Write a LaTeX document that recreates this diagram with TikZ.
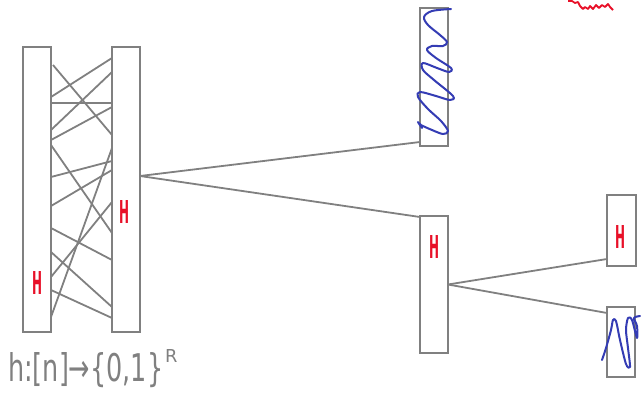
\documentclass[tikz,border=0pt]{standalone}
\usepackage{fontspec}
\setmainfont{DejaVu Sans}
\newfontfamily\handfont{DejaVu Sans}
\definecolor{boxgray}{RGB}{128,128,128}
\definecolor{inkred}{RGB}{232,16,40}
\definecolor{inkblue}{RGB}{52,60,180}
\tikzset{
  unit/.style={draw=boxgray, line width=2pt, fill=white, inner sep=0pt, outer sep=0pt, minimum width=28pt},
  wire/.style={draw=boxgray, line width=1.8pt},
  hlabel/.style={text=inkred, inner sep=0pt},
  scribble/.style={draw=inkblue, line width=2pt, line cap=round, line join=round},
}
\newcommand{\redH}{\resizebox{10pt}{23pt}{\handfont\bfseries H}}
\begin{document}
\begin{tikzpicture}[x=1pt,y=-1pt]
\useasboundingbox (0,0) rectangle (641,394);
% boxes
\node[unit, minimum height=285pt] (A) at (37,189.5) {};
\node[unit, minimum height=285pt] (B) at (126,189.5) {};
\node[unit, minimum height=138pt] (C) at (434,77) {};
\node[unit, minimum height=137pt] (D) at (434,284.5) {};
\node[unit, minimum height=71pt, minimum width=29pt] (E) at (621.5,230.5) {};
\node[unit, minimum height=70pt] (F) at (621,342) {};
% crossing wires between A and B
\draw[wire] (A.east |- 0,65) ++(2,0) -- (B.west |- 0,135);
\draw[wire] (A.east |- 0,97) -- (B.west |- 0,58);
\draw[wire] (A.east |- 0,103) -- (B.west |- 0,103);
\draw[wire] (A.east |- 0,130) -- (B.west |- 0,72);
\draw[wire] (A.east |- 0,140) -- (B.west |- 0,107);
\draw[wire] (A.east |- 0,145) -- (B.west |- 0,233);
\draw[wire] (A.east |- 0,177) -- (B.west |- 0,161);
\draw[wire] (A.east |- 0,206) -- (B.west |- 0,170);
\draw[wire] (A.east |- 0,228) -- (B.west |- 0,260);
\draw[wire] (A.east |- 0,252) -- (B.west |- 0,307);
\draw[wire] (A.east |- 0,277) -- (B.west |- 0,202);
\draw[wire] (A.east |- 0,290) -- (B.west |- 0,318);
\draw[wire] (A.east |- 0,317) -- (B.west |- 0,148);
% tree wires
\draw[wire] (B.east |- 0,176) -- (C.west |- 0,142);
\draw[wire] (B.east |- 0,176) -- (D.west |- 0,217);
\draw[wire] (D.east) -- (E.west |- 0,259);
\draw[wire] (D.east) -- (F.west |- 0,313);
% red H labels
\node[hlabel] (hA) at (37,283) {\redH};
\node[hlabel] (hB) at (124,212) {\redH};
\node[hlabel] (hD) at (434,247) {\redH};
\node[hlabel] (hE) at (620,237) {\redH};
% blue scribbles
\draw[scribble] plot[smooth, tension=0.55] coordinates {
 (451,9) (432,11) (424,17) (428,25) (440,35) (447,42) (443,46) (432,46) (427,50)
 (436,58) (451,68) (449,72) (437,68) (423,63) (423,70)
 (434,80) (453,96) (450,100) (436,96) (420,92) (418,97)
 (428,109) (441,121) (448,131) (443,134) (432,130) (421,125) (418,122) (422,128)};
\draw[scribble] plot[smooth, tension=0.5] coordinates {
 (602,360) (606,348) (611,330) (613,320) (616,321) (620,340) (626,364) (630,367)
 (628,348) (626,330) (628,318) (632,320) (637,338) (637,326) (634,318) (640,316)};
% red scribble top right
\draw[draw=inkred, line width=1.8pt, line join=round] (568,1) -- (572,1) -- (575,3) -- (578,2) -- (580,6) -- (583,9) -- (585,7) -- (588,9) -- (590,6) -- (593,9) -- (596,5) -- (599,8) -- (602,5) -- (605,7) -- (608,4) -- (610,7) -- (613,10);
% function label
\node[anchor=base west, inner sep=0pt, text=boxgray] (lbl) at (8,381) {\resizebox{155pt}{29pt}{\handfont h:[n]→\{0,1\}}\hspace{2pt}\raisebox{19pt}{\resizebox{!}{13pt}{\handfont R}}};
\end{tikzpicture}
\end{document}
